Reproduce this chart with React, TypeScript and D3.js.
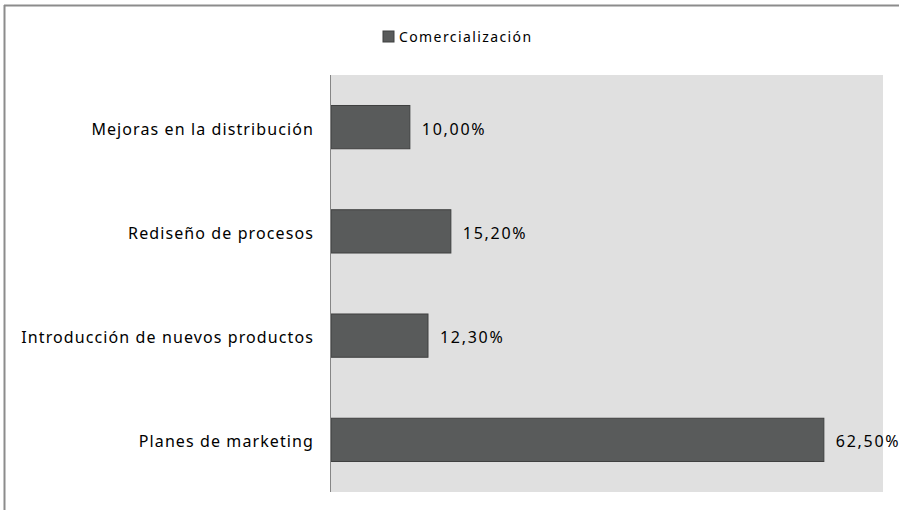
import { useEffect, useRef } from "react";
import * as d3 from "d3";

const categories = [
  "Mejoras en la distribución",
  "Rediseño de procesos",
  "Introducción de nuevos productos",
  "Planes de marketing",
];
const values = [0.1, 0.152, 0.123, 0.625];
const seriesName = "Comercialización";

export default function App() {
  const ref = useRef<SVGSVGElement>(null);

  useEffect(() => {
    const svg = d3.select(ref.current);
    svg.selectAll("*").remove();
    const font = "'Noto Sans', sans-serif";

    const left = 331;
    const right = 883;
    const top = 75;
    const bottom = 492;

    const x = d3.scaleLinear().domain([0, 0.7]).range([left, right]);
    const y = d3.scaleBand().domain(categories).range([top, bottom])
      .paddingInner(0.585).paddingOuter(0.2925);

    // outer frame (only top and left edges show)
    svg.append("line").attr("x1", 4.5).attr("x2", 4.5).attr("y1", 5).attr("y2", 510)
      .attr("stroke", "#8c8c8c").attr("stroke-width", 2);
    svg.append("line").attr("x1", 4).attr("x2", 899).attr("y1", 5.5).attr("y2", 5.5)
      .attr("stroke", "#8c8c8c").attr("stroke-width", 2);

    // plot background
    svg.append("rect").attr("x", left).attr("y", top)
      .attr("width", right - left).attr("height", bottom - top).attr("fill", "#e0e0e0");

    // bars
    svg.append("g").selectAll("rect").data(categories).join("rect")
      .attr("x", x(0))
      .attr("y", (d) => y(d)!)
      .attr("width", (d, i) => x(values[i]) - x(0))
      .attr("height", y.bandwidth())
      .attr("fill", "#595b5b")
      .attr("stroke", "#3f4040")
      .attr("stroke-width", 1);

    // value labels
    const fmt = (v: number) => (v * 100).toFixed(2).replace(".", ",") + "%";
    svg.append("g").selectAll("text").data(categories).join("text")
      .attr("x", (d, i) => x(values[i]) + 12)
      .attr("y", (d) => y(d)! + y.bandwidth() / 2 + 2)
      .attr("dy", "0.35em")
      .attr("font-family", font).attr("font-size", 16).attr("letter-spacing", 1.7)
      .attr("fill", "#000")
      .text((d, i) => fmt(values[i]));

    // category axis
    svg.append("line").attr("x1", left - 0.5).attr("x2", left - 0.5)
      .attr("y1", top).attr("y2", bottom).attr("stroke", "#868686");
    svg.append("g").selectAll("text").data(categories).join("text")
      .attr("x", left - 17)
      .attr("y", (d) => y(d)! + y.bandwidth() / 2 + 2)
      .attr("dy", "0.35em")
      .attr("text-anchor", "end")
      .attr("font-family", font).attr("font-size", 16).attr("letter-spacing", 1.1)
      .attr("fill", "#000")
      .text((d) => d);

    // legend
    svg.append("rect").attr("x", 383).attr("y", 31).attr("width", 11).attr("height", 11)
      .attr("fill", "#595b5b").attr("stroke", "#3f4040");
    svg.append("text").attr("x", 399).attr("y", 37).attr("dy", "0.35em")
      .attr("font-family", font).attr("font-size", 14).attr("letter-spacing", 1.4)
      .attr("fill", "#000")
      .text(seriesName);
  }, []);

  return (
    <svg
      ref={ref}
      width={899}
      height={510}
      style={{ position: "absolute", left: 0, top: 0, background: "#fff" }}
    />
  );
}
